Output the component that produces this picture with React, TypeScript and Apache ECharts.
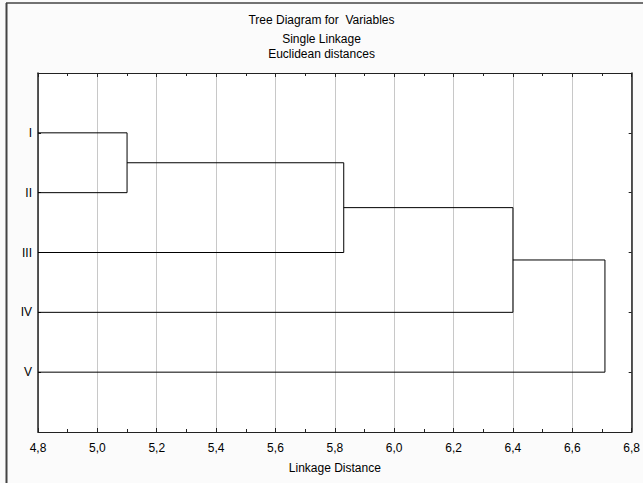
import React, { useEffect, useRef } from "react";
import * as echarts from "echarts";

// Leaves (variables) from top to bottom
const leafLabels = ["I", "II", "III", "IV", "V"];
// Merges: node ids 0..4 are leaves, 5.. are clusters created in order
const mergeA = [0, 5, 6, 7];
const mergeB = [1, 2, 3, 4];
const mergeDist = [5.1, 5.83, 6.4, 6.71];

const titleLines = ["Tree Diagram for  Variables", "Single Linkage", "Euclidean distances"];
const xMin = 4.8;
const xMax = 6.8;
const xStep = 0.2;

const FONT = "'Liberation Sans', Arial, sans-serif";

export default function App() {
  const ref = useRef<HTMLDivElement>(null);
  useEffect(() => {
    if (!ref.current) return;
    const chart = echarts.init(ref.current, undefined, { renderer: "svg" });

    const nodeX: number[] = leafLabels.map(() => xMin);
    const nodeY: number[] = leafLabels.map((_, i) => i + 1);
    const series: any[] = [];
    mergeDist.forEach((d, k) => {
      const a = mergeA[k];
      const b = mergeB[k];
      series.push({
        type: "line",
        xAxisIndex: 0,
        yAxisIndex: 0,
        symbol: "none",
        silent: true,
        clip: false,
        lineStyle: { color: "#000", width: 1 },
        data: [
          [nodeX[a], nodeY[a]],
          [d, nodeY[a]],
          [d, nodeY[b]],
          [nodeX[b], nodeY[b]],
        ],
      });
      nodeX.push(d);
      nodeY.push((nodeY[a] + nodeY[b]) / 2);
    });

    const titleTops = [13, 32, 47];
    const fmt = (v: number) => v.toFixed(1).replace(".", ",");

    chart.setOption({
      animation: false,
      backgroundColor: "#fbfbfb",
      textStyle: { fontFamily: FONT },
      title: titleLines.map((t, i) => ({
        text: t,
        left: "center",
        top: titleTops[i],
        padding: 0,
        textStyle: { fontSize: 12, fontWeight: "normal", color: "#000", fontFamily: FONT, lineHeight: 14 },
      })),
      graphic: [
        { type: "line", shape: { x1: 6.5, y1: 3, x2: 6.5, y2: 483 }, style: { stroke: "#444", lineWidth: 2 } },
        { type: "line", shape: { x1: 6, y1: 3, x2: 643, y2: 3 }, style: { stroke: "#444", lineWidth: 1.5 } },
      ],
      grid: {
        left: 38,
        right: 11,
        top: 73,
        bottom: 51,
        show: true,
        backgroundColor: "#fff",
        borderWidth: 0,
      },
      xAxis: [
        {
          type: "value",
          position: "bottom",
          min: xMin,
          max: xMax,
          interval: xStep,
          name: "Linkage Distance",
          nameLocation: "middle",
          nameGap: 30,
          nameTextStyle: { fontSize: 12, color: "#000", fontFamily: FONT },
          axisLine: { show: true, onZero: false, lineStyle: { color: "#222", width: 1 } },
          axisTick: { show: true, inside: true, length: 4, lineStyle: { color: "#222" } },
          minorTick: { show: true, splitNumber: 2, length: 3, lineStyle: { color: "#222" } },
          axisLabel: { fontSize: 12, color: "#000", margin: 10, fontFamily: FONT, formatter: fmt },
          splitLine: { show: true, lineStyle: { color: "#c8c8c8", width: 1 } },
        },
        {
          type: "value",
          position: "top",
          min: xMin,
          max: xMax,
          interval: xStep,
          axisLine: { show: true, onZero: false, lineStyle: { color: "#222", width: 1 } },
          axisTick: { show: true, inside: true, length: 4, lineStyle: { color: "#222" } },
          minorTick: { show: true, splitNumber: 2, length: 3, lineStyle: { color: "#222" } },
          axisLabel: { show: false },
          splitLine: { show: false },
        },
      ],
      yAxis: [
        {
          type: "value",
          position: "left",
          inverse: true,
          min: 0,
          max: leafLabels.length + 1,
          interval: 1,
          axisLine: { show: true, onZero: false, lineStyle: { color: "#222", width: 1.5 } },
          axisTick: { show: true, inside: true, length: 3, lineStyle: { color: "#222" } },
          axisLabel: {
            fontSize: 12,
            color: "#000",
            margin: 6,
            fontFamily: FONT,
            formatter: (v: number) => leafLabels[Math.round(v) - 1] ?? "",
          },
          splitLine: { show: false },
        },
        {
          type: "value",
          position: "right",
          inverse: true,
          min: 0,
          max: leafLabels.length + 1,
          interval: 1,
          axisLine: { show: true, onZero: false, lineStyle: { color: "#222", width: 1.5 } },
          axisTick: { show: true, inside: true, length: 3, lineStyle: { color: "#222" } },
          axisLabel: { show: false },
          splitLine: { show: false },
        },
      ],
      series,
    });
    return () => chart.dispose();
  }, []);
  return <div ref={ref} style={{ position: "fixed", left: 0, top: 0, width: 643, height: 483 }} />;
}
